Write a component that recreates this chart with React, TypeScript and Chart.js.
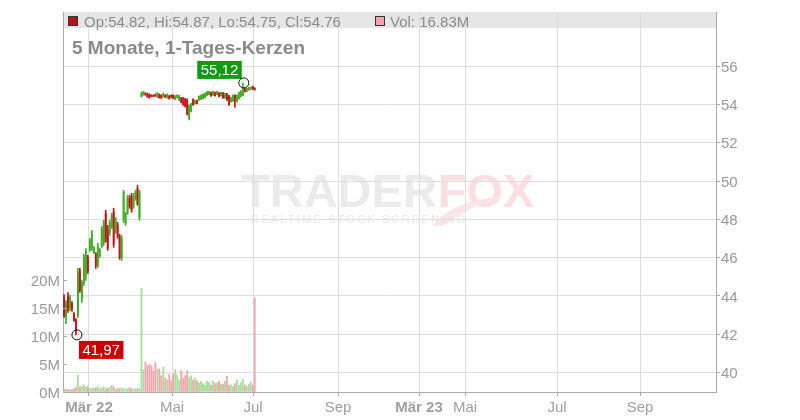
import { useEffect, useRef } from 'react';
import { Chart, registerables } from 'chart.js';

Chart.register(...registerables);

const FONT = "'Liberation Sans', Arial, Helvetica, sans-serif";

// ---- data (daily candles, index = trading day) ----
const opens = [
  43.9, 42.9, 44.0, 43.4, 43.6, 43.1, 42.75, 43.0, 45.3, 43.9,
  44.7, 45.1, 46.0, 46.4, 46.5, 46.3, 46.2, 45.6, 46.1, 46.6,
  46.8, 48.3, 47.5, 47.3, 47.6, 48.4, 47.4, 47.7, 47.1, 46.0,
  48.0, 47.8, 48.4, 49.1, 49.2, 48.7, 49.1, 49.6, 48.1,
  54.42, 54.5, 54.58, 54.55, 54.5, 54.48, 54.47, 54.5, 54.4, 54.52,
  54.46, 54.4, 54.48, 54.35, 54.44, 54.47, 54.47, 54.27, 54.35, 54.23,
  54.33, 54.32, 54.28, 54.2, 53.3, 53.65, 54.25, 54.04, 54.2, 54.24,
  54.28, 54.32, 54.38, 54.48, 54.52, 54.62, 54.48, 54.62, 54.5, 54.6,
  54.45, 54.6, 54.33, 54.55, 54.45, 54.14, 54.18, 54.47, 54.15, 54.3,
  54.4, 54.48, 54.82, 54.68, 54.75, 54.8, 54.92, 54.82,
];
const highs = [
  44.08, 43.76, 44.18, 44.03, 43.71, 43.14, 42.82, 45.44, 45.44, 44.81,
  46.17, 46.48, 46.12, 47.0, 47.42, 46.59, 46.27, 46.75, 46.48, 47.63,
  47.95, 48.47, 47.69, 47.95, 48.31, 48.58, 48.1, 47.84, 47.22, 47.16,
  49.52, 48.37, 49.25, 49.25, 49.36, 49.36, 49.52, 49.78, 49.52,
  54.64, 54.68, 54.6, 54.59, 54.55, 54.5, 54.5, 54.54, 54.62, 54.55,
  54.5, 54.59, 54.5, 54.55, 54.46, 54.5, 54.5, 54.46, 54.5, 54.47,
  54.36, 54.36, 54.31, 54.29, 53.98, 54.07, 54.29, 54.23, 54.22, 54.45,
  54.5, 54.55, 54.6, 54.68, 54.68, 54.64, 54.68, 54.64, 54.68, 54.62,
  54.64, 54.62, 54.57, 54.57, 54.47, 54.38, 54.5, 54.5, 54.5, 54.64,
  54.72, 55.12, 54.85, 54.85, 54.9, 54.9, 54.95, 54.87,
];
const lows = [
  42.88, 42.56, 43.14, 43.24, 43.19, 42.67, 41.97, 42.88, 44.18, 43.66,
  44.55, 44.81, 45.18, 46.33, 46.38, 46.22, 45.44, 45.49, 46.01, 46.54,
  46.64, 46.8, 46.38, 47.16, 47.53, 46.54, 47.27, 47.01, 45.91, 45.86,
  47.84, 47.69, 48.26, 48.58, 48.37, 48.58, 48.99, 48.73, 47.95,
  54.38, 54.47, 54.47, 54.36, 54.32, 54.4, 54.4, 54.42, 54.36, 54.32,
  54.31, 54.38, 54.36, 54.32, 54.27, 54.36, 54.29, 54.24, 54.33, 54.2,
  54.07, 53.95, 53.86, 53.45, 53.19, 53.6, 53.95, 54.01, 54.03, 54.21,
  54.24, 54.29, 54.34, 54.45, 54.5, 54.42, 54.47, 54.43, 54.5, 54.4,
  54.43, 54.31, 54.31, 54.2, 53.95, 54.12, 54.16, 53.86, 54.12, 54.26,
  54.38, 54.45, 54.64, 54.67, 54.73, 54.78, 54.78, 54.75,
];
const closes = [
  43.0, 43.6, 43.3, 43.9, 43.3, 42.75, 42.1, 45.2, 44.3, 44.7,
  46.0, 46.3, 45.3, 46.9, 47.3, 46.5, 45.6, 46.6, 46.4, 47.5,
  47.8, 46.9, 46.5, 47.8, 48.2, 46.7, 48.0, 47.1, 46.0, 47.0,
  49.4, 48.3, 49.1, 48.7, 48.5, 49.2, 49.4, 48.8, 49.4,
  54.6, 54.65, 54.5, 54.4, 54.36, 54.42, 54.41, 54.44, 54.58, 54.35,
  54.34, 54.56, 54.38, 54.52, 54.3, 54.38, 54.31, 54.43, 54.48, 54.44,
  54.1, 53.98, 53.9, 53.5, 53.95, 54.02, 53.98, 54.2, 54.06, 54.42,
  54.46, 54.52, 54.56, 54.64, 54.65, 54.45, 54.65, 54.46, 54.66, 54.42,
  54.62, 54.34, 54.55, 54.23, 54.0, 54.36, 54.46, 54.2, 54.46, 54.6,
  54.68, 54.85, 54.68, 54.82, 54.88, 54.88, 54.8, 54.76,
];
// volume in millions
const volumes = [
  0.5, 0.5, 0.45, 0.4, 0.45, 0.55, 0.8, 3.0, 0.9, 1.0,
  1.2, 0.9, 1.0, 0.6, 0.7, 0.7, 0.75, 1.0, 0.6, 0.75,
  0.9, 0.6, 0.7, 0.75, 1.2, 0.9, 0.5, 0.7, 0.6, 0.75,
  0.6, 0.5, 0.6, 0.75, 0.6, 0.5, 0.6, 0.6, 0.6,
  18.5, 4.0, 5.3, 4.7, 4.9, 4.7, 3.7, 5.3, 4.1, 4.1,
  2.9, 4.4, 2.5, 2.2, 3.2, 2.0, 3.2, 4.0, 3.0, 2.2,
  3.8, 2.4, 2.9, 3.8, 2.6, 2.9, 2.1, 2.5, 2.0, 1.6,
  1.9, 1.5, 1.2, 1.9, 1.7, 1.2, 1.9, 1.5, 1.6, 1.9,
  1.4, 1.4, 1.9, 2.8, 1.2, 1.3, 1.0, 1.5, 2.1, 1.2,
  1.7, 2.3, 1.3, 1.0, 1.4, 1.8, 1.2, 16.83,
];

const xTickValues = [12.58, 54.37, 95.14, 137.93, 178.7, 201.87, 248.18, 289.96];
const xTickLabels = ['Mär 22', 'Mai', 'Jul', 'Sep', 'Mär 23', 'Mai', 'Jul', 'Sep'];
const priceTicks = [40, 42, 44, 46, 48, 50, 52, 54, 56];
const volumeTicks = [0, 5, 10, 15, 20];
const titleText = '5 Monate, 1-Tages-Kerzen';
const watermarkA = 'TRADER';
const watermarkB = 'FOX';
const watermarkSub = 'REALTIME STOCK SCREENING';

// ---- axis ranges / styles ----
const X_MIN = -0.503;
const X_MAX = 328.2;
const PRICE_MIN = 38.99;
const PRICE_MAX = 58.82;
const VOL_MAX = 67.86;

const UP = '#3fae26';
const DOWN = '#c4161c';
const VOL_UP = '#a6df9c';
const VOL_DOWN = '#f3a5ad';
const GRID = '#dddddd';
const AXIS = '#aaaaaa';
const TXT = '#999999';

const isUp = (i: number) => closes[i] >= opens[i];
const fmtDe = (v: number) => v.toFixed(2).replace('.', ',');

const decor = {
  id: 'decor',
  beforeDraw(chart: any) {
    const { ctx, chartArea: a } = chart;
    ctx.save();
    // header band
    ctx.fillStyle = '#e6e6e6';
    ctx.fillRect(a.left, a.top, a.right - a.left, 16);
    // watermark
    ctx.textBaseline = 'alphabetic';
    ctx.textAlign = 'left';
    ctx.font = `bold 47px ${FONT}`;
    ctx.fillStyle = '#ebebeb';
    ctx.fillText(watermarkA, 241, 207);
    const wA = ctx.measureText(watermarkA).width;
    ctx.fillStyle = '#fcdfe2';
    ctx.fillText(watermarkB, 241 + wA + 1, 207);
    // fox tail swoosh
    ctx.fillStyle = '#fde4e7';
    ctx.beginPath();
    ctx.moveTo(432, 226);
    ctx.quadraticCurveTo(452, 200, 505, 196);
    ctx.quadraticCurveTo(466, 207, 444, 226);
    ctx.closePath();
    ctx.fill();
    ctx.font = `11px ${FONT}`;
    (ctx as any).letterSpacing = '2.2px';
    ctx.fillStyle = '#e8e8e8';
    ctx.fillText(watermarkSub, 251, 223);
    (ctx as any).letterSpacing = '0px';
    ctx.restore();
  },
  afterDatasetsDraw(chart: any) {
    const { ctx, chartArea: a } = chart;
    const xs = chart.scales.x;
    const ys = chart.scales.y;
    const yv = chart.scales.yv;
    const last = opens.length - 1;
    ctx.save();
    // inward ticks on volume axis
    ctx.strokeStyle = AXIS;
    ctx.lineWidth = 1;
    volumeTicks.forEach((v) => {
      const py = Math.round(yv.getPixelForValue(v)) + 0.5;
      ctx.beginPath();
      ctx.moveTo(a.left, py);
      ctx.lineTo(a.left + 4, py);
      ctx.stroke();
    });
    // header
    ctx.textBaseline = 'alphabetic';
    ctx.textAlign = 'left';
    ctx.fillStyle = '#b01818';
    ctx.fillRect(68, 16, 10, 10);
    ctx.strokeStyle = '#333';
    ctx.strokeRect(68.5, 16.5, 9, 9);
    ctx.font = `15px ${FONT}`;
    ctx.fillStyle = '#8c8c8c';
    ctx.fillText(
      `Op:${opens[last].toFixed(2)}, Hi:${highs[last].toFixed(2)}, Lo:${lows[last].toFixed(2)}, Cl:${closes[last].toFixed(2)}`,
      84, 26.5
    );
    ctx.fillStyle = VOL_DOWN;
    ctx.fillRect(375, 16, 10, 10);
    ctx.strokeRect(375.5, 16.5, 9, 9);
    ctx.fillStyle = '#8c8c8c';
    ctx.fillText(`Vol: ${volumes[last].toFixed(2)}M`, 390, 26.5);
    // title
    ctx.font = `bold 19px ${FONT}`;
    ctx.fillStyle = '#8a8a8a';
    ctx.fillText(titleText, 72, 54);

    // extremes
    let lo = 0;
    let hi = 0;
    for (let i = 0; i < lows.length; i++) {
      if (lows[i] < lows[lo]) lo = i;
      if (highs[i] > highs[hi]) hi = i;
    }
    const drawMark = (idx: number, val: number, color: string, below: boolean) => {
      const cx = xs.getPixelForValue(idx) + 1;
      const cy = ys.getPixelForValue(val);
      const text = fmtDe(val);
      ctx.font = `15px ${FONT}`;
      const w = ctx.measureText(text).width + 7;
      const h = 18;
      const bx = below ? cx + 2 : cx - 2 - w;
      const by = below ? cy + 6 : cy - 22;
      ctx.fillStyle = color;
      ctx.fillRect(bx, by, w, h);
      ctx.fillStyle = '#ffffff';
      ctx.textBaseline = 'middle';
      ctx.fillText(text, bx + 3.5, by + h / 2 + 1);
      ctx.beginPath();
      ctx.arc(cx, cy, 5, 0, Math.PI * 2);
      ctx.strokeStyle = '#111';
      ctx.lineWidth = 1;
      ctx.stroke();
    };
    drawMark(lo, lows[lo], '#cc0000', true);
    drawMark(hi, highs[hi], '#139a13', false);
    ctx.restore();
  },
};

export default function App() {
  const ref = useRef<HTMLCanvasElement>(null);
  useEffect(() => {
    const canvas = ref.current;
    if (!canvas) return;
    const idx = opens.map((_, i) => i);
    const candleColors = idx.map((i) => (isUp(i) ? UP : DOWN));
    const chart = new Chart(canvas, {
      type: 'bar',
      data: {
        datasets: [
          {
            label: 'Volume',
            yAxisID: 'yv',
            data: idx.map((i) => ({ x: i, y: volumes[i] })) as any,
            backgroundColor: idx.map((i) => (isUp(i) ? VOL_UP : VOL_DOWN)),
            barThickness: 1.2,
            grouped: false,
            order: 3,
          },
          {
            label: 'Range',
            yAxisID: 'y',
            data: idx.map((i) => ({ x: i, y: [lows[i], highs[i]] })) as any,
            backgroundColor: candleColors,
            barThickness: 1,
            grouped: false,
            order: 2,
          },
          {
            label: 'Body',
            yAxisID: 'y',
            data: idx.map((i) => ({ x: i, y: [opens[i], closes[i]] })) as any,
            backgroundColor: candleColors,
            barThickness: 1.2,
            grouped: false,
            order: 1,
          },
        ],
      },
      options: {
        animation: false,
        responsive: false,
        devicePixelRatio: 1,
        layout: { padding: { top: 12, left: 0, right: 0, bottom: 0 } },
        plugins: { legend: { display: false }, tooltip: { enabled: false } },
        scales: {
          x: {
            type: 'linear',
            position: 'bottom',
            min: X_MIN,
            max: X_MAX,
            offset: false,
            afterFit: (s: any) => { s.height = 28; },
            afterBuildTicks: (s: any) => { s.ticks = xTickValues.map((v) => ({ value: v })); },
            ticks: {
              autoSkip: false,
              maxRotation: 0,
              padding: 3,
              color: '#a0a0a0',
              callback: (_v: any, i: number) => xTickLabels[i],
              font: (c: any) => ({
                family: FONT,
                size: 15,
                weight: /\d/.test(xTickLabels[c.index] || '') ? 'bold' : 'normal',
              }),
            },
            grid: { color: GRID, offset: false, tickColor: AXIS, tickLength: 4 },
            border: { color: AXIS },
          } as any,
          y: {
            type: 'linear',
            position: 'right',
            min: PRICE_MIN,
            max: PRICE_MAX,
            afterFit: (s: any) => { s.width = 84; },
            afterBuildTicks: (s: any) => { s.ticks = priceTicks.map((v) => ({ value: v })); },
            ticks: { color: TXT, padding: 1, labelOffset: 1.5, font: { family: FONT, size: 15 } },
            grid: { color: GRID, tickColor: AXIS, tickLength: 4 },
            border: { color: AXIS },
          } as any,
          yv: {
            type: 'linear',
            position: 'left',
            min: 0,
            max: VOL_MAX,
            afterFit: (s: any) => { s.width = 63; },
            afterBuildTicks: (s: any) => { s.ticks = volumeTicks.map((v) => ({ value: v })); },
            ticks: {
              color: TXT,
              padding: 3,
              labelOffset: 2,
              font: { family: FONT, size: 15 },
              callback: (v: any) => `${v}M`,
            },
            grid: { drawOnChartArea: false, drawTicks: false },
            border: { color: AXIS },
          } as any,
        },
      },
      plugins: [decor],
    } as any);
    return () => chart.destroy();
  }, []);
  return (
    <div style={{ position: 'absolute', left: 0, top: 0, width: 800, height: 420 }}>
      <canvas ref={ref} width={800} height={420} style={{ display: 'block' }} />
    </div>
  );
}
